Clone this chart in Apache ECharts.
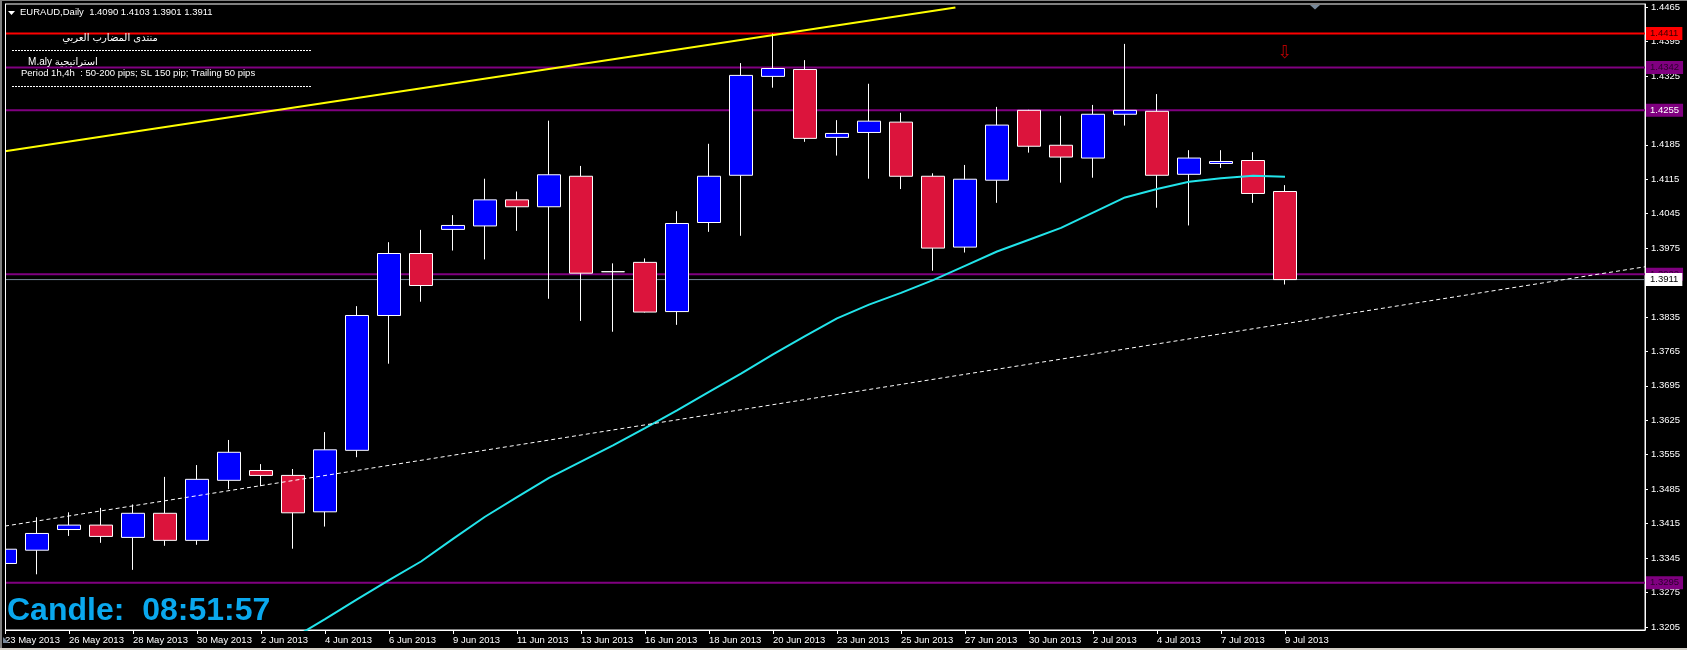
<!DOCTYPE html>
<html><head><meta charset="utf-8">
<script src="https://cdn.jsdelivr.net/npm/echarts@6/dist/echarts.min.js"></script>
<style>html,body{margin:0;padding:0;background:#000;}#c{width:1687px;height:650px;}</style>
</head><body><div id="c"></div>
<script>
// ---- data ----
const candleDates = ['23 May 2013','24 May 2013','26 May 2013','27 May 2013','28 May 2013','29 May 2013','30 May 2013','31 May 2013',
 '2 Jun 2013','3 Jun 2013','4 Jun 2013','5 Jun 2013','6 Jun 2013','7 Jun 2013','9 Jun 2013','10 Jun 2013','11 Jun 2013','12 Jun 2013',
 '13 Jun 2013','14 Jun 2013','16 Jun 2013','17 Jun 2013','18 Jun 2013','19 Jun 2013','20 Jun 2013','21 Jun 2013','23 Jun 2013','24 Jun 2013',
 '25 Jun 2013','26 Jun 2013','27 Jun 2013','28 Jun 2013','30 Jun 2013','1 Jul 2013','2 Jul 2013','3 Jul 2013','4 Jul 2013','5 Jul 2013',
 '7 Jul 2013','8 Jul 2013','9 Jul 2013'];
const opens  = [1.3334,1.3361,1.3403,1.3412,1.3387,1.3436,1.3381,1.3503,1.3523,1.3513,1.3439,1.3564,1.3838,1.3964,1.4013,1.4020,1.4073,1.4059,
 1.4121,1.3927,1.3946,1.3846,1.4027,1.4123,1.4324,1.4338,1.4200,1.4210,1.4231,1.4121,1.3977,1.4113,1.4255,1.4184,1.4158,1.4247,1.4253,1.4125,
 1.4147,1.4153,1.4090];
const closes = [1.3363,1.3395,1.3412,1.3389,1.3436,1.3381,1.3505,1.3560,1.3513,1.3437,1.3565,1.3838,1.3964,1.3899,1.4021,1.4073,1.4059,1.4124,
 1.3924,1.3927,1.3845,1.4025,1.4121,1.4326,1.4340,1.4198,1.4208,1.4233,1.4121,1.3975,1.4115,1.4225,1.4182,1.4160,1.4247,1.4255,1.4123,1.4158,
 1.4151,1.4086,1.3911];
const lows   = [1.3318,1.3312,1.3390,1.3376,1.3321,1.3370,1.3372,1.3485,1.3491,1.3364,1.3409,1.3550,1.3740,1.3866,1.3970,1.3952,1.4010,1.3872,
 1.3827,1.3805,1.3844,1.3819,1.4008,1.4000,1.4301,1.4191,1.4163,1.4116,1.4095,1.3929,1.3966,1.4067,1.4169,1.4108,1.4118,1.4224,1.4057,1.4021,
 1.4138,1.4067,1.3901];
const highs  = [1.3373,1.3428,1.3438,1.3447,1.3454,1.3510,1.3534,1.3585,1.3536,1.3526,1.3601,1.3857,1.3987,1.4012,1.4042,1.4116,1.4090,1.4234,
 1.4142,1.3944,1.3954,1.4050,1.4187,1.4351,1.4411,1.4357,1.4235,1.4309,1.4250,1.4127,1.4144,1.4262,1.4256,1.4244,1.4266,1.4390,1.4288,1.4174,
 1.4174,1.4170,1.4103];
const maStartIndex = 9;
const maValues = [1.3182,1.3221,1.3261,1.3300,1.3338,1.3384,1.3429,1.3469,1.3508,1.3541,1.3574,1.3609,1.3645,1.3683,1.3720,1.3759,1.3796,
 1.3832,1.3860,1.3884,1.3910,1.3939,1.3968,1.3992,1.4016,1.4047,1.4078,1.4095,1.4110,1.4117,1.4122,1.4120];
const yTickLabels = ['1.3205','1.3275','1.3345','1.3415','1.3485','1.3555','1.3625','1.3695','1.3765','1.3835','1.3905','1.3975','1.4045',
 '1.4115','1.4185','1.4255','1.4325','1.4395','1.4465'];
const levelPrices = [1.4411, 1.4342, 1.4255, 1.3922, 1.3295];
const yellowTrend = [[0, 1.4172], [29.7, 1.4464]];
const whiteTrend  = [[0, 1.3410], [51.25, 1.3937]];
const signalArrows = [[40, 1.4370]];
const headerText = 'EURAUD,Daily  1.4090 1.4103 1.3901 1.3911';
const candleTimer = 'Candle:  08:51:57';

// ---- styles ----
const FONT = '"Liberation Sans", "DejaVu Sans", sans-serif';
const X_MIN = 0, X_MAX = 51.25;
const levelColors = ['#ff0000', '#800080', '#800080', '#800080', '#800080'];
const levelTextColors = ['#3a0000', '#2a002a', '#ffffff', '#2a002a', '#2a002a'];
const xTickValues = candleDates.map((d, i) => i).filter(i => i % 2 === 0);
const yTickValues = yTickLabels.map(Number);

function levelSeries(price, color, width, boxColor, textColor) {
  return {
    type: 'line', z: 1, silent: true, showSymbol: false, animation: false,
    data: [[X_MIN, price], [X_MAX, price]],
    lineStyle: {color: color, width: width, type: 'solid'},
    endLabel: {show: true, distance: 1, formatter: price.toFixed(4), backgroundColor: boxColor, color: textColor,
      fontSize: 9.5, fontFamily: FONT, padding: [2, 4, 1, 4]}
  };
}
const bid = closes[closes.length - 1];
const levelSeriesList = levelPrices.map((p, k) => levelSeries(p, levelColors[k], 2, levelColors[k], levelTextColors[k]));
levelSeriesList.push(levelSeries(bid, '#778899', 1, '#ffffff', '#000000'));

const chart = echarts.init(document.getElementById('c'), null, {renderer: 'canvas'});
chart.setOption({
  backgroundColor: '#000000',
  animation: false,
  grid: {left: 5, right: 42, top: 4, bottom: 20, show: true, borderColor: '#ffffff', borderWidth: 1, backgroundColor: '#000000'},
  xAxis: {
    type: 'value', min: X_MIN, max: X_MAX,
    axisLine: {show: true, onZero: false, lineStyle: {color: '#ffffff', width: 1}},
    axisTick: {show: true, customValues: xTickValues, length: 4, lineStyle: {color: '#ffffff'}},
    axisLabel: {show: true, customValues: xTickValues, formatter: v => candleDates[Math.round(v)], color: '#ffffff',
      fontSize: 9.5, fontFamily: FONT, align: 'left', margin: 5},
    splitLine: {show: false}
  },
  yAxis: {
    type: 'value', position: 'right', min: 1.31988, max: 1.44711,
    axisLine: {show: true, onZero: false, lineStyle: {color: '#ffffff', width: 1}},
    axisTick: {show: true, customValues: yTickValues, length: 3, lineStyle: {color: '#ffffff'}},
    axisLabel: {show: true, customValues: yTickValues, formatter: v => v.toFixed(4), color: '#ffffff',
      fontSize: 9.5, fontFamily: FONT, margin: 6},
    splitLine: {show: false}
  },
  series: levelSeriesList.concat([
    {
      type: 'candlestick', z: 3,
      data: candleDates.map((d, i) => [i, opens[i], closes[i], lows[i], highs[i]]),
      encode: {x: 0, y: [1, 2, 3, 4]},
      barWidth: 23,
      itemStyle: {color: '#0000ff', color0: '#dc143c', borderColor: '#ffffff', borderColor0: '#ffffff',
        borderColorDoji: '#ffffff', borderWidth: 1}
    },
    {
      type: 'line', z: 4, data: maValues.map((v, k) => [maStartIndex + k, v]), showSymbol: false,
      lineStyle: {color: '#22e4ea', width: 2}, silent: true
    },
    {
      type: 'line', z: 4, data: yellowTrend, showSymbol: false, lineStyle: {color: '#ffff00', width: 2}, silent: true
    },
    {
      type: 'line', z: 4, data: whiteTrend, showSymbol: false, lineStyle: {color: '#ffffff', width: 1, type: [4, 3]}, silent: true
    },
    {
      type: 'scatter', z: 5, data: signalArrows, symbolSize: 0, silent: true,
      label: {show: true, position: 'inside', formatter: '\u21e9', color: '#e00000', fontSize: 18, fontFamily: '"DejaVu Sans", sans-serif'}
    }
  ]),
  graphic: [
    {type: 'rect', z: 100, shape: {x: 0, y: 0, width: 5, height: 650}, style: {fill: '#000000'}, silent: true},
    {type: 'rect', z: 101, shape: {x: 0, y: 0, width: 1687, height: 1}, style: {fill: '#808080'}, silent: true},
    {type: 'rect', z: 101, shape: {x: 0, y: 0, width: 2, height: 650}, style: {fill: '#808080'}, silent: true},
    {type: 'rect', z: 101, shape: {x: 5, y: 4, width: 1, height: 626}, style: {fill: '#ffffff'}, silent: true},
    {type: 'rect', z: 101, shape: {x: 0, y: 648, width: 1687, height: 2}, style: {fill: '#d4d0c8'}, silent: true},
    {type: 'polygon', z: 101, shape: {points: [[8, 11], [15, 11], [11.5, 15]]}, style: {fill: '#ffffff'}, silent: true},
    {type: 'text', z: 101, x: 20, y: 12.5, style: {text: headerText, fill: '#ffffff', font: '9.5px ' + FONT, verticalAlign: 'middle'}, silent: true},
    {type: 'text', z: 101, x: 110, y: 38, style: {text: 'منتدى المضارب العربي', fill: '#ffffff', font: '10px "DejaVu Sans", sans-serif', align: 'center', verticalAlign: 'middle'}, silent: true},
    {type: 'line', z: 101, shape: {x1: 12, y1: 50.5, x2: 312, y2: 50.5}, style: {stroke: '#ffffff', lineWidth: 1, lineDash: [2, 1]}, silent: true},
    {type: 'text', z: 101, x: 63, y: 62, style: {text: 'M.aly استراتيجية', fill: '#ffffff', font: '10px ' + FONT, align: 'center', verticalAlign: 'middle'}, silent: true},
    {type: 'text', z: 101, x: 21, y: 73.5, style: {text: 'Period 1h,4h  : 50-200 pips; SL 150 pip; Trailing 50 pips', fill: '#ffffff', font: '9.5px ' + FONT, verticalAlign: 'middle'}, silent: true},
    {type: 'line', z: 101, shape: {x1: 12, y1: 86.5, x2: 312, y2: 86.5}, style: {stroke: '#ffffff', lineWidth: 1, lineDash: [2, 1]}, silent: true},
    {type: 'polygon', z: 101, shape: {points: [[1310, 5], [1320, 5], [1315, 9.5]]}, style: {fill: '#778899'}, silent: true},
    {type: 'polygon', z: 101, shape: {points: [[3, 637], [3, 643], [9, 643]]}, style: {fill: '#778899'}, silent: true},
    {type: 'text', z: 101, x: 7, y: 611, style: {text: candleTimer, fill: '#0aa8ee', font: 'bold 32px ' + FONT, verticalAlign: 'middle'}, silent: true}
  ]
});
</script></body></html>
